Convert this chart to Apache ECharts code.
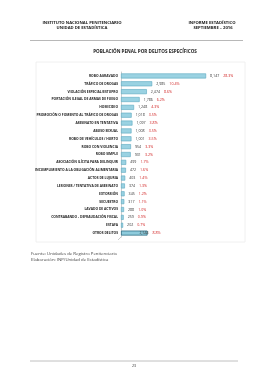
<!DOCTYPE html>
<html>
<head>
<meta charset="utf-8">
<script src="https://cdn.jsdelivr.net/npm/echarts@6/dist/echarts.min.js"></script>
<style>
  html, body { margin: 0; padding: 0; background: #ffffff; }
  #myChart { width: 268px; height: 380px; }
</style>
</head>
<body>
<div id="myChart"></div>
<script>
// delitos, de arriba hacia abajo
const categorias = [
  'ROBO AGRAVADO',
  'TRÁFICO DE DROGAS',
  'VIOLACIÓN ESPECIAL/ESTUPRO',
  'PORTACIÓN ILEGAL DE ARMAS DE FUEGO',
  'HOMICIDIO',
  'PROMOCIÓN O FOMENTO AL TRÁFICO DE DROGAS',
  'ASESINATO EN TENTATIVA',
  'ABUSO SEXUAL',
  'ROBO DE VEHÍCULOS / HURTO',
  'ROBO CON VIOLENCIA',
  'ROBO SIMPLE',
  'ASOCIACIÓN ILÍCITA PARA DELINQUIR',
  'INCUMPLIMIENTO A LA OBLIGACIÓN ALIMENTARIA',
  'ACTOS DE LUJURIA',
  'LESIONES / TENTATIVA DE ASESINATO',
  'EXTORSIÓN',
  'SECUESTRO',
  'LAVADO DE ACTIVOS',
  'CONTRABANDO - DEFRAUDACIÓN FISCAL',
  'ESTAFA',
  'OTROS DELITOS'
]
const poblacion = [8147, 2985, 2474, 1786, 1248, 1018, 1097, 1008, 1001, 954, 931, 499, 472, 403, 374, 345, 317, 288, 259, 202, 2544]
const porcentajes = ['28.3%', '10.4%', '8.6%', '6.2%', '4.3%', '3.5%', '3.8%', '3.5%', '3.5%', '3.3%', '3.2%', '1.7%', '1.6%', '1.4%', '1.3%', '1.2%', '1.1%', '1.0%', '0.9%', '0.7%', '8.8%']

const fuente = 'Open Sans'
const fmt = n => n.toLocaleString('en-US')

const richLabel = {
  v: { fontSize: 3.6, color: '#333333', fontFamily: fuente },
  p: { fontSize: 3.6, color: '#d02020', fontFamily: fuente, padding: [0, 0, 0, 4] }
}

const datos = poblacion.map((v, i) => {
  const item = { value: v }
  if (i === poblacion.length - 1) {
    // la ultima barra va resaltada, con el valor dentro
    item.itemStyle = { color: '#8ecbdc', borderColor: '#2e6f86', borderWidth: 0.8 }
    item.label = { position: 'insideRight', distance: 2, offset: [15, 0] }
  }
  return item
})

const myChart = echarts.init(document.getElementById('myChart'), null, { renderer: 'canvas' })

const texto = (x, y, t, size, weight, align, color) => ({
  type: 'text',
  x: x,
  y: y,
  style: {
    text: t,
    fontSize: size,
    fontWeight: weight,
    fontFamily: fuente,
    fill: color || '#222222',
    textAlign: align || 'left',
    textVerticalAlign: 'middle'
  }
})

myChart.setOption({
  animation: false,
  backgroundColor: '#ffffff',
  grid: { left: 121, top: 72, right: 53, bottom: 143, containLabel: false },
  xAxis: { type: 'value', min: 0, max: 9000, show: false },
  yAxis: {
    type: 'category',
    inverse: true,
    data: categorias,
    axisTick: { show: false },
    axisLine: { lineStyle: { color: '#bfbfbf', width: 0.8 } },
    axisLabel: { fontSize: 3.3, color: '#222222', fontFamily: fuente, fontWeight: 'bold', margin: 3 }
  },
  series: [{
    type: 'bar',
    data: datos,
    barWidth: 5,
    itemStyle: { color: '#9ad2e2', borderColor: '#5aa7c0', borderWidth: 0.6 },
    label: {
      show: true,
      position: 'right',
      distance: 4,
      formatter: p => '{v|' + fmt(p.value) + '}{p|' + porcentajes[p.dataIndex] + '}',
      rich: richLabel
    }
  }],
  graphic: [
    { type: 'rect', shape: { x: 36, y: 62, width: 209, height: 180 }, style: { fill: 'none', stroke: '#ececec', lineWidth: 0.8 }, silent: true },
    { type: 'line', shape: { x1: 121, y1: 237, x2: 118, y2: 240 }, style: { stroke: '#bfbfbf', lineWidth: 0.8 } },
    texto(82, 22.7, 'INSTITUTO NACIONAL PENITENCIARIO', 4.2, 'bold', 'center'),
    texto(82, 28.3, 'UNIDAD DE ESTADÍSTICA', 4.2, 'bold', 'center'),
    texto(212, 22.7, 'INFORME ESTADÍSTICO', 4.2, 'bold', 'center'),
    texto(213, 28.3, 'SEPTIEMBRE – 2016', 4.2, 'bold', 'center'),
    { type: 'line', shape: { x1: 30, y1: 40.5, x2: 243, y2: 40.5 }, style: { stroke: '#a6a6a6', lineWidth: 0.8 } },
    texto(145, 51.3, 'POBLACIÓN PENAL POR DELITOS ESPECÍFICOS', 4.6, 'bold', 'center'),
    texto(31, 254, 'Fuente: Unidades de Registro Penitenciario', 4.3, 'normal', 'left', '#404040'),
    texto(31, 259.6, 'Elaboración: INP/Unidad de Estadística', 4.3, 'normal', 'left', '#404040'),
    { type: 'line', shape: { x1: 30, y1: 361, x2: 238, y2: 361 }, style: { stroke: '#b0b0b0', lineWidth: 0.8 } },
    texto(134, 366, '23', 3.6, 'normal', 'center', '#333333')
  ]
})
</script>
</body>
</html>
